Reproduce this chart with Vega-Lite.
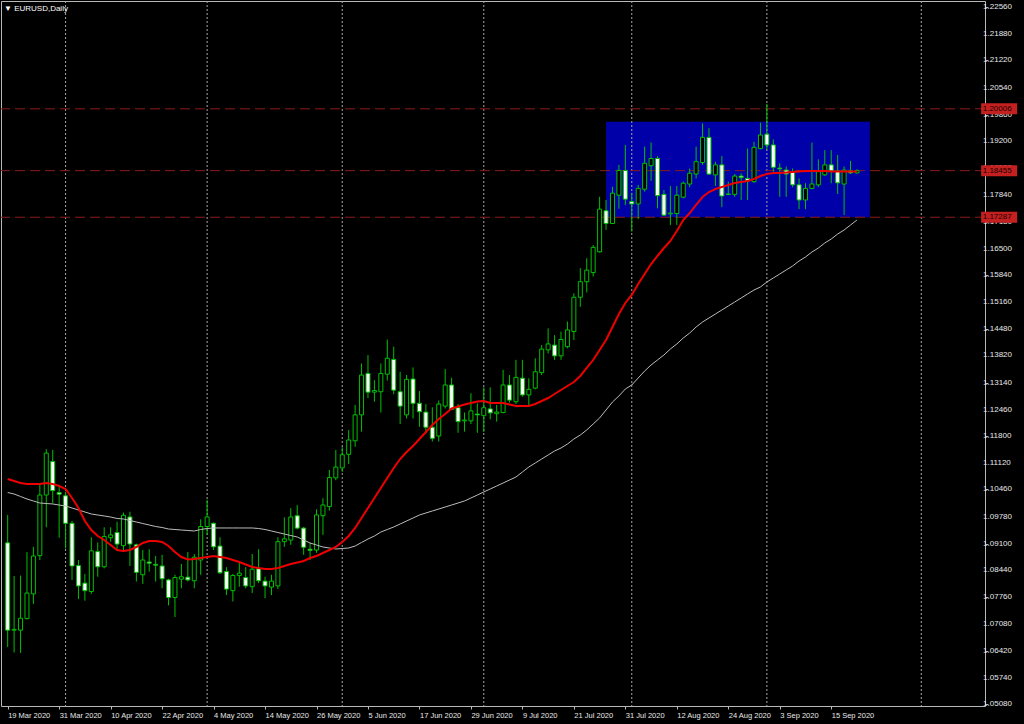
{
"$schema": "https://vega.github.io/schema/vega-lite/v6.json",
"width": 984, "height": 705,
"autosize": {"type": "none"},
"padding": {"left": 1, "top": 1, "right": 39, "bottom": 18},
"background": "#000000",
"config": {"view": {"stroke": "#b8b8b8", "strokeWidth": 1}, "font": "Liberation Sans", "axis": {"labelOverlap": false, "labelFlush": false}},
"title": {"text": "▼ EURUSD,Daily", "anchor": "start", "orient": "top", "frame": "group", "offset": 0, "dy": 16, "dx": 3, "baseline": "middle", "fontSize": 8, "fontWeight": "normal", "color": "#ffffff", "font": "Liberation Sans"},
"datasets": {
"bars": [
{"i":0,"d":"2020-03-19","o":1.0912,"h":1.0982,"l":1.0651,"c":1.0693,"r":1.10722,"g":1.10383},
{"i":1,"d":"2020-03-20","o":1.0693,"h":1.0829,"l":1.0637,"c":1.0695,"r":1.10671,"g":1.10345},
{"i":2,"d":"2020-03-23","o":1.0693,"h":1.0830,"l":1.0636,"c":1.0723,"r":1.10621,"g":1.10283},
{"i":3,"d":"2020-03-24","o":1.0722,"h":1.0889,"l":1.0720,"c":1.0786,"r":1.10596,"g":1.10220},
{"i":4,"d":"2020-03-25","o":1.0784,"h":1.0902,"l":1.0759,"c":1.0879,"r":1.10596,"g":1.10170},
{"i":5,"d":"2020-03-26","o":1.0880,"h":1.1057,"l":1.0869,"c":1.1032,"r":1.10596,"g":1.10120},
{"i":6,"d":"2020-03-27","o":1.1032,"h":1.1147,"l":1.0951,"c":1.1137,"r":1.10621,"g":1.10107},
{"i":7,"d":"2020-03-30","o":1.1116,"h":1.1145,"l":1.1011,"c":1.1043,"r":1.10596,"g":1.10095},
{"i":8,"d":"2020-03-31","o":1.1038,"h":1.1053,"l":1.0925,"c":1.1034,"r":1.10546,"g":1.10069},
{"i":9,"d":"2020-04-01","o":1.1030,"h":1.1040,"l":1.0898,"c":1.0961,"r":1.10471,"g":1.10044},
{"i":10,"d":"2020-04-02","o":1.0961,"h":1.0967,"l":1.0819,"c":1.0854,"r":1.10245,"g":1.09994},
{"i":11,"d":"2020-04-03","o":1.0855,"h":1.0869,"l":1.0771,"c":1.0804,"r":1.09994,"g":1.09944},
{"i":12,"d":"2020-04-06","o":1.0811,"h":1.0834,"l":1.0767,"c":1.0792,"r":1.09668,"g":1.09894},
{"i":13,"d":"2020-04-07","o":1.0790,"h":1.0926,"l":1.0784,"c":1.0892,"r":1.09442,"g":1.09844},
{"i":14,"d":"2020-04-08","o":1.0890,"h":1.0913,"l":1.0827,"c":1.0852,"r":1.09292,"g":1.09819},
{"i":15,"d":"2020-04-09","o":1.0852,"h":1.0951,"l":1.0848,"c":1.0928,"r":1.09192,"g":1.09794},
{"i":16,"d":"2020-04-10","o":1.0925,"h":1.0951,"l":1.0915,"c":1.0932,"r":1.09066,"g":1.09768},
{"i":17,"d":"2020-04-13","o":1.0938,"h":1.0965,"l":1.0892,"c":1.0909,"r":1.08941,"g":1.09731},
{"i":18,"d":"2020-04-14","o":1.0905,"h":1.0988,"l":1.0892,"c":1.0981,"r":1.08916,"g":1.09718},
{"i":19,"d":"2020-04-15","o":1.0977,"h":1.0990,"l":1.0854,"c":1.0909,"r":1.08941,"g":1.09681},
{"i":20,"d":"2020-04-16","o":1.0907,"h":1.0910,"l":1.0815,"c":1.0838,"r":1.09016,"g":1.09643},
{"i":21,"d":"2020-04-17","o":1.0832,"h":1.0894,"l":1.0809,"c":1.0869,"r":1.09116,"g":1.09605},
{"i":22,"d":"2020-04-20","o":1.0864,"h":1.0896,"l":1.0840,"c":1.0861,"r":1.09166,"g":1.09568},
{"i":23,"d":"2020-04-21","o":1.0858,"h":1.0879,"l":1.0815,"c":1.0856,"r":1.09166,"g":1.09530},
{"i":24,"d":"2020-04-22","o":1.0854,"h":1.0882,"l":1.0798,"c":1.0822,"r":1.09141,"g":1.09505},
{"i":25,"d":"2020-04-23","o":1.0819,"h":1.0822,"l":1.0755,"c":1.0775,"r":1.09041,"g":1.09467},
{"i":26,"d":"2020-04-24","o":1.0775,"h":1.0832,"l":1.0726,"c":1.0825,"r":1.08891,"g":1.09455},
{"i":27,"d":"2020-04-27","o":1.0821,"h":1.0859,"l":1.0798,"c":1.0827,"r":1.08765,"g":1.09442},
{"i":28,"d":"2020-04-28","o":1.0826,"h":1.0889,"l":1.0815,"c":1.0819,"r":1.08702,"g":1.09430},
{"i":29,"d":"2020-04-29","o":1.0817,"h":1.0884,"l":1.0798,"c":1.0876,"r":1.08715,"g":1.09417},
{"i":30,"d":"2020-04-30","o":1.0869,"h":1.0971,"l":1.0832,"c":1.0953,"r":1.08740,"g":1.09455},
{"i":31,"d":"2020-05-01","o":1.0953,"h":1.1020,"l":1.0932,"c":1.0977,"r":1.08765,"g":1.09480},
{"i":32,"d":"2020-05-04","o":1.0961,"h":1.0963,"l":1.0894,"c":1.0902,"r":1.08790,"g":1.09493},
{"i":33,"d":"2020-05-05","o":1.0904,"h":1.0926,"l":1.0834,"c":1.0837,"r":1.08765,"g":1.09493},
{"i":34,"d":"2020-05-06","o":1.0840,"h":1.0851,"l":1.0781,"c":1.0796,"r":1.08740,"g":1.09493},
{"i":35,"d":"2020-05-07","o":1.0792,"h":1.0834,"l":1.0765,"c":1.0830,"r":1.08690,"g":1.09493},
{"i":36,"d":"2020-05-08","o":1.0830,"h":1.0862,"l":1.0802,"c":1.0836,"r":1.08640,"g":1.09493},
{"i":37,"d":"2020-05-11","o":1.0825,"h":1.0851,"l":1.0798,"c":1.0804,"r":1.08577,"g":1.09493},
{"i":38,"d":"2020-05-12","o":1.0802,"h":1.0884,"l":1.0786,"c":1.0846,"r":1.08514,"g":1.09493},
{"i":39,"d":"2020-05-13","o":1.0847,"h":1.0896,"l":1.0811,"c":1.0817,"r":1.08489,"g":1.09480},
{"i":40,"d":"2020-05-14","o":1.0816,"h":1.0827,"l":1.0773,"c":1.0804,"r":1.08464,"g":1.09455},
{"i":41,"d":"2020-05-15","o":1.0801,"h":1.0832,"l":1.0781,"c":1.0816,"r":1.08464,"g":1.09417},
{"i":42,"d":"2020-05-18","o":1.0804,"h":1.0926,"l":1.0796,"c":1.0915,"r":1.08489,"g":1.09380},
{"i":43,"d":"2020-05-19","o":1.0915,"h":1.0976,"l":1.0902,"c":1.0922,"r":1.08539,"g":1.09342},
{"i":44,"d":"2020-05-20","o":1.0919,"h":1.0999,"l":1.0907,"c":1.0977,"r":1.08590,"g":1.09304},
{"i":45,"d":"2020-05-21","o":1.0980,"h":1.1007,"l":1.0946,"c":1.0949,"r":1.08627,"g":1.09267},
{"i":46,"d":"2020-05-22","o":1.0949,"h":1.0952,"l":1.0882,"c":1.0901,"r":1.08665,"g":1.09192},
{"i":47,"d":"2020-05-25","o":1.0896,"h":1.0913,"l":1.0869,"c":1.0893,"r":1.08740,"g":1.09116},
{"i":48,"d":"2020-05-26","o":1.0894,"h":1.0996,"l":1.0887,"c":1.0982,"r":1.08790,"g":1.09066},
{"i":49,"d":"2020-05-27","o":1.0980,"h":1.1024,"l":1.0932,"c":1.1007,"r":1.08866,"g":1.09016},
{"i":50,"d":"2020-05-28","o":1.1003,"h":1.1095,"l":1.0993,"c":1.1076,"r":1.08941,"g":1.08991},
{"i":51,"d":"2020-05-29","o":1.1075,"h":1.1145,"l":1.1069,"c":1.1102,"r":1.09016,"g":1.08966},
{"i":52,"d":"2020-06-01","o":1.1100,"h":1.1152,"l":1.1090,"c":1.1133,"r":1.09141,"g":1.08978},
{"i":53,"d":"2020-06-02","o":1.1134,"h":1.1195,"l":1.1110,"c":1.1170,"r":1.09292,"g":1.08991},
{"i":54,"d":"2020-06-03","o":1.1168,"h":1.1258,"l":1.1153,"c":1.1233,"r":1.09493,"g":1.09041},
{"i":55,"d":"2020-06-04","o":1.1233,"h":1.1362,"l":1.1191,"c":1.1333,"r":1.09743,"g":1.09129},
{"i":56,"d":"2020-06-05","o":1.1337,"h":1.1383,"l":1.1275,"c":1.1290,"r":1.09994,"g":1.09217},
{"i":57,"d":"2020-06-08","o":1.1290,"h":1.1320,"l":1.1266,"c":1.1294,"r":1.10245,"g":1.09292},
{"i":58,"d":"2020-06-09","o":1.1291,"h":1.1362,"l":1.1239,"c":1.1337,"r":1.10496,"g":1.09392},
{"i":59,"d":"2020-06-10","o":1.1335,"h":1.1422,"l":1.1319,"c":1.1375,"r":1.10747,"g":1.09455},
{"i":60,"d":"2020-06-11","o":1.1372,"h":1.1404,"l":1.1285,"c":1.1295,"r":1.10997,"g":1.09518},
{"i":61,"d":"2020-06-12","o":1.1291,"h":1.1341,"l":1.1210,"c":1.1255,"r":1.11223,"g":1.09593},
{"i":62,"d":"2020-06-15","o":1.1233,"h":1.1333,"l":1.1224,"c":1.1322,"r":1.11399,"g":1.09668},
{"i":63,"d":"2020-06-16","o":1.1323,"h":1.1352,"l":1.1224,"c":1.1262,"r":1.11549,"g":1.09743},
{"i":64,"d":"2020-06-17","o":1.1262,"h":1.1293,"l":1.1203,"c":1.1241,"r":1.11725,"g":1.09819},
{"i":65,"d":"2020-06-18","o":1.1240,"h":1.1260,"l":1.1187,"c":1.1202,"r":1.11900,"g":1.09869},
{"i":66,"d":"2020-06-19","o":1.1202,"h":1.1252,"l":1.1166,"c":1.1174,"r":1.12076,"g":1.09919},
{"i":67,"d":"2020-06-22","o":1.1180,"h":1.1269,"l":1.1166,"c":1.1260,"r":1.12226,"g":1.09969},
{"i":68,"d":"2020-06-23","o":1.1255,"h":1.1348,"l":1.1249,"c":1.1308,"r":1.12352,"g":1.10019},
{"i":69,"d":"2020-06-24","o":1.1308,"h":1.1326,"l":1.1245,"c":1.1247,"r":1.12490,"g":1.10069},
{"i":70,"d":"2020-06-25","o":1.1251,"h":1.1260,"l":1.1188,"c":1.1216,"r":1.12540,"g":1.10120},
{"i":71,"d":"2020-06-26","o":1.1218,"h":1.1239,"l":1.1191,"c":1.1220,"r":1.12590,"g":1.10170},
{"i":72,"d":"2020-06-29","o":1.1218,"h":1.1287,"l":1.1210,"c":1.1243,"r":1.12628,"g":1.10245},
{"i":73,"d":"2020-06-30","o":1.1235,"h":1.1262,"l":1.1188,"c":1.1233,"r":1.12665,"g":1.10320},
{"i":74,"d":"2020-07-01","o":1.1231,"h":1.1302,"l":1.1190,"c":1.1251,"r":1.12678,"g":1.10396},
{"i":75,"d":"2020-07-02","o":1.1248,"h":1.1302,"l":1.1222,"c":1.1238,"r":1.12628,"g":1.10471},
{"i":76,"d":"2020-07-03","o":1.1236,"h":1.1258,"l":1.1216,"c":1.1240,"r":1.12628,"g":1.10546},
{"i":77,"d":"2020-07-06","o":1.1239,"h":1.1346,"l":1.1237,"c":1.1308,"r":1.12628,"g":1.10621},
{"i":78,"d":"2020-07-07","o":1.1308,"h":1.1333,"l":1.1264,"c":1.1270,"r":1.12590,"g":1.10696},
{"i":79,"d":"2020-07-08","o":1.1266,"h":1.1371,"l":1.1260,"c":1.1327,"r":1.12553,"g":1.10772},
{"i":80,"d":"2020-07-09","o":1.1325,"h":1.1371,"l":1.1279,"c":1.1283,"r":1.12553,"g":1.10897},
{"i":81,"d":"2020-07-10","o":1.1283,"h":1.1325,"l":1.1254,"c":1.1297,"r":1.12553,"g":1.11023},
{"i":82,"d":"2020-07-13","o":1.1300,"h":1.1375,"l":1.1297,"c":1.1341,"r":1.12603,"g":1.11123},
{"i":83,"d":"2020-07-14","o":1.1339,"h":1.1408,"l":1.1333,"c":1.1398,"r":1.12678,"g":1.11223},
{"i":84,"d":"2020-07-15","o":1.1396,"h":1.1450,"l":1.1387,"c":1.1411,"r":1.12753,"g":1.11324},
{"i":85,"d":"2020-07-16","o":1.1408,"h":1.1433,"l":1.1371,"c":1.1381,"r":1.12853,"g":1.11424},
{"i":86,"d":"2020-07-17","o":1.1381,"h":1.1442,"l":1.1371,"c":1.1422,"r":1.12954,"g":1.11499},
{"i":87,"d":"2020-07-20","o":1.1404,"h":1.1467,"l":1.1400,"c":1.1446,"r":1.13054,"g":1.11599},
{"i":88,"d":"2020-07-21","o":1.1442,"h":1.1538,"l":1.1421,"c":1.1528,"r":1.13154,"g":1.11725},
{"i":89,"d":"2020-07-22","o":1.1528,"h":1.1601,"l":1.1504,"c":1.1567,"r":1.13305,"g":1.11825},
{"i":90,"d":"2020-07-23","o":1.1567,"h":1.1626,"l":1.1540,"c":1.1596,"r":1.13506,"g":1.11951},
{"i":91,"d":"2020-07-24","o":1.1590,"h":1.1659,"l":1.1580,"c":1.1653,"r":1.13706,"g":1.12101},
{"i":92,"d":"2020-07-27","o":1.1642,"h":1.1780,"l":1.1640,"c":1.1749,"r":1.13957,"g":1.12252},
{"i":93,"d":"2020-07-28","o":1.1745,"h":1.1772,"l":1.1697,"c":1.1713,"r":1.14208,"g":1.12452},
{"i":94,"d":"2020-07-29","o":1.1713,"h":1.1805,"l":1.1712,"c":1.1789,"r":1.14534,"g":1.12653},
{"i":95,"d":"2020-07-30","o":1.1784,"h":1.1860,"l":1.1750,"c":1.1846,"r":1.14860,"g":1.12803},
{"i":96,"d":"2020-07-31","o":1.1846,"h":1.1910,"l":1.1759,"c":1.1774,"r":1.15136,"g":1.12979},
{"i":97,"d":"2020-08-03","o":1.1768,"h":1.1790,"l":1.1693,"c":1.1762,"r":1.15337,"g":1.13079},
{"i":98,"d":"2020-08-04","o":1.1762,"h":1.1810,"l":1.1724,"c":1.1801,"r":1.15612,"g":1.13255},
{"i":99,"d":"2020-08-05","o":1.1799,"h":1.1906,"l":1.1793,"c":1.1864,"r":1.15863,"g":1.13430},
{"i":100,"d":"2020-08-06","o":1.1858,"h":1.1916,"l":1.1820,"c":1.1876,"r":1.16114,"g":1.13581},
{"i":101,"d":"2020-08-07","o":1.1876,"h":1.1882,"l":1.1751,"c":1.1783,"r":1.16315,"g":1.13706},
{"i":102,"d":"2020-08-10","o":1.1786,"h":1.1797,"l":1.1732,"c":1.1734,"r":1.16515,"g":1.13832},
{"i":103,"d":"2020-08-11","o":1.1737,"h":1.1807,"l":1.1709,"c":1.1739,"r":1.16691,"g":1.13982},
{"i":104,"d":"2020-08-12","o":1.1738,"h":1.1807,"l":1.1709,"c":1.1784,"r":1.16942,"g":1.14108},
{"i":105,"d":"2020-08-13","o":1.1779,"h":1.1818,"l":1.1776,"c":1.1814,"r":1.17218,"g":1.14258},
{"i":106,"d":"2020-08-14","o":1.1812,"h":1.1851,"l":1.1804,"c":1.1839,"r":1.17393,"g":1.14383},
{"i":107,"d":"2020-08-17","o":1.1837,"h":1.1906,"l":1.1826,"c":1.1868,"r":1.17594,"g":1.14534},
{"i":108,"d":"2020-08-18","o":1.1866,"h":1.1964,"l":1.1860,"c":1.1929,"r":1.17794,"g":1.14659},
{"i":109,"d":"2020-08-19","o":1.1929,"h":1.1952,"l":1.1835,"c":1.1837,"r":1.17920,"g":1.14760},
{"i":110,"d":"2020-08-20","o":1.1835,"h":1.1868,"l":1.1807,"c":1.1860,"r":1.17995,"g":1.14860},
{"i":111,"d":"2020-08-21","o":1.1860,"h":1.1882,"l":1.1754,"c":1.1782,"r":1.18045,"g":1.14960},
{"i":112,"d":"2020-08-24","o":1.1787,"h":1.1818,"l":1.1784,"c":1.1786,"r":1.18095,"g":1.15061},
{"i":113,"d":"2020-08-25","o":1.1786,"h":1.1837,"l":1.1780,"c":1.1832,"r":1.18145,"g":1.15161},
{"i":114,"d":"2020-08-26","o":1.1832,"h":1.1839,"l":1.1772,"c":1.1828,"r":1.18170,"g":1.15261},
{"i":115,"d":"2020-08-27","o":1.1826,"h":1.1901,"l":1.1772,"c":1.1820,"r":1.18195,"g":1.15362},
{"i":116,"d":"2020-08-28","o":1.1818,"h":1.1918,"l":1.1815,"c":1.1904,"r":1.18246,"g":1.15462},
{"i":117,"d":"2020-08-31","o":1.1901,"h":1.1966,"l":1.1899,"c":1.1935,"r":1.18321,"g":1.15538},
{"i":118,"d":"2020-09-01","o":1.1937,"h":1.2013,"l":1.1897,"c":1.1910,"r":1.18371,"g":1.15663},
{"i":119,"d":"2020-09-02","o":1.1910,"h":1.1924,"l":1.1843,"c":1.1854,"r":1.18396,"g":1.15763},
{"i":120,"d":"2020-09-03","o":1.1852,"h":1.1864,"l":1.1780,"c":1.1850,"r":1.18396,"g":1.15863},
{"i":121,"d":"2020-09-04","o":1.1847,"h":1.1856,"l":1.1780,"c":1.1837,"r":1.18409,"g":1.15964},
{"i":122,"d":"2020-09-07","o":1.1843,"h":1.1851,"l":1.1804,"c":1.1810,"r":1.18421,"g":1.16064},
{"i":123,"d":"2020-09-08","o":1.1810,"h":1.1826,"l":1.1749,"c":1.1772,"r":1.18434,"g":1.16189},
{"i":124,"d":"2020-09-09","o":1.1772,"h":1.1814,"l":1.1749,"c":1.1801,"r":1.18446,"g":1.16290},
{"i":125,"d":"2020-09-10","o":1.1801,"h":1.1916,"l":1.1799,"c":1.1812,"r":1.18446,"g":1.16415},
{"i":126,"d":"2020-09-11","o":1.1810,"h":1.1874,"l":1.1804,"c":1.1843,"r":1.18446,"g":1.16515},
{"i":127,"d":"2020-09-14","o":1.1835,"h":1.1897,"l":1.1832,"c":1.1860,"r":1.18446,"g":1.16641},
{"i":128,"d":"2020-09-15","o":1.1860,"h":1.1897,"l":1.1814,"c":1.1845,"r":1.18434,"g":1.16741},
{"i":129,"d":"2020-09-16","o":1.1845,"h":1.1885,"l":1.1787,"c":1.1815,"r":1.18434,"g":1.16866},
{"i":130,"d":"2020-09-17","o":1.1812,"h":1.1856,"l":1.1734,"c":1.1847,"r":1.18434,"g":1.16967},
{"i":131,"d":"2020-09-18","o":1.1845,"h":1.1870,"l":1.1837,"c":1.1840,"r":1.18434,"g":1.17092},
{"i":132,"d":"2020-09-21","o":1.1840,"h":1.1849,"l":1.1838,"c":1.18455,"r":1.18434,"g":1.17218}
],
"grid": [{"i":9},{"i":31},{"i":52},{"i":74},{"i":97},{"i":118},{"i":142}],
"levels": [{"p":1.20006},{"p":1.18455},{"p":1.17287}],
"yticks": [{"v":1.2256},{"v":1.2188},{"v":1.2122},{"v":1.2054},{"v":1.1986},{"v":1.192},{"v":1.1852},{"v":1.1784},{"v":1.1718},{"v":1.165},{"v":1.1584},{"v":1.1516},{"v":1.1448},{"v":1.1382},{"v":1.1314},{"v":1.1246},{"v":1.118},{"v":1.1112},{"v":1.1046},{"v":1.0978},{"v":1.091},{"v":1.0844},{"v":1.0776},{"v":1.0708},{"v":1.0642},{"v":1.0574},{"v":1.0508}],
"box": [{"t1":93,"t2":134,"p1":1.1968,"p2":1.17287}]
},
"layer": [
{"data":{"name":"box"},"mark":{"type":"rect","color":"#0000a8"},
 "encoding":{"x":{"field":"t1","type":"quantitative","scale":{"domain":[-0.2615,151.1231],"nice":false,"zero":false},"axis":{"title":null,"labelOverlap":false}},
 "x2":{"field":"t2"},
 "y":{"field":"p1","type":"quantitative","scale":{"domain":[1.050281,1.227105],"nice":false,"zero":false},"axis":{"title":null,"labelOverlap":false}},
 "y2":{"field":"p2"}}},
{"data":{"name":"grid"},"mark":{"type":"rule","color":"#a8a8a8","strokeDash":[2,2],"strokeWidth":1},
 "encoding":{"x":{"field":"i","type":"quantitative","scale":{"domain":[-0.2615,151.1231],"nice":false,"zero":false},"axis":{"title":null,"labelOverlap":false}}}},
{"data":{"name":"levels"},"mark":{"type":"rule","color":"#8c1c1c","strokeDash":[10,5],"strokeWidth":1},
 "encoding":{"y":{"field":"p","type":"quantitative","scale":{"domain":[1.050281,1.227105],"nice":false,"zero":false},"axis":{"title":null,"labelOverlap":false}}}},
{"data":{"name":"bars"},"mark":{"type":"rule","color":"#00c000","strokeWidth":1,"clip":true},
 "encoding":{"x":{"field":"i","type":"quantitative","scale":{"domain":[-0.2615,151.1231],"nice":false,"zero":false},
   "axis":{"orient":"bottom","title":null,"values":[0,8,16,24,32,40,48,56,64,72,80,88,96,104,112,120,128],
   "labelExpr":"datum.value==0?'19 Mar 2020':datum.value==8?'31 Mar 2020':datum.value==16?'10 Apr 2020':datum.value==24?'22 Apr 2020':datum.value==32?'4 May 2020':datum.value==40?'14 May 2020':datum.value==48?'26 May 2020':datum.value==56?'5 Jun 2020':datum.value==64?'17 Jun 2020':datum.value==72?'29 Jun 2020':datum.value==80?'9 Jul 2020':datum.value==88?'21 Jul 2020':datum.value==96?'31 Jul 2020':datum.value==104?'12 Aug 2020':datum.value==112?'24 Aug 2020':datum.value==120?'3 Sep 2020':'15 Sep 2020'",
   "labelAlign":"left","labelBaseline":"top","labelPadding":2,"tickSize":3,"tickColor":"#b8b8b8","domain":false,"grid":false,
   "labelColor":"#e8e8e8","labelFontSize":7.5,"labelFont":"Liberation Sans","labelOverlap":false,"labelFlush":false}},
  "y":{"field":"l","type":"quantitative","scale":{"domain":[1.050281,1.227105],"nice":false,"zero":false},
   "axis":{"orient":"right","title":null,"values":[1.2256,1.2188,1.2122,1.2054,1.1986,1.192,1.1852,1.1784,1.1718,1.165,1.1584,1.1516,1.1448,1.1382,1.1314,1.1246,1.118,1.1112,1.1046,1.0978,1.091,1.0844,1.0776,1.0708,1.0642,1.0574,1.0508],
   "labels":false,"tickSize":3,"tickColor":"#b8b8b8","domain":false,"grid":false,"labelOverlap":false}},
  "y2":{"field":"h"}}},
{"data":{"name":"bars"},"mark":{"type":"bar","width":4,"stroke":"#00c000","strokeWidth":1,"clip":true},
 "encoding":{"x":{"field":"i","type":"quantitative","scale":{"domain":[-0.2615,151.1231],"nice":false,"zero":false},"axis":{"title":null,"labelOverlap":false}},
  "y":{"field":"o","type":"quantitative","scale":{"domain":[1.050281,1.227105],"nice":false,"zero":false},"axis":{"title":null,"labelOverlap":false}},
  "y2":{"field":"c"},
  "fill":{"condition":{"test":"datum.c >= datum.o","value":"#000000"},"value":"#ffffff"}}},
{"data":{"name":"bars"},"mark":{"type":"line","color":"#bcbcbc","strokeWidth":1,"clip":true},
 "encoding":{"x":{"field":"i","type":"quantitative","scale":{"domain":[-0.2615,151.1231],"nice":false,"zero":false},"axis":{"title":null,"labelOverlap":false}},
  "y":{"field":"g","type":"quantitative","scale":{"domain":[1.050281,1.227105],"nice":false,"zero":false},"axis":{"title":null,"labelOverlap":false}}}},
{"data":{"name":"bars"},"mark":{"type":"line","color":"#ee0000","strokeWidth":2,"clip":true},
 "encoding":{"x":{"field":"i","type":"quantitative","scale":{"domain":[-0.2615,151.1231],"nice":false,"zero":false},"axis":{"title":null,"labelOverlap":false}},
  "y":{"field":"r","type":"quantitative","scale":{"domain":[1.050281,1.227105],"nice":false,"zero":false},"axis":{"title":null,"labelOverlap":false}}}},
{"data":{"name":"yticks"},"mark":{"type":"text","align":"left","baseline":"middle","font":"Liberation Sans","fontSize":8,"color":"#e8e8e8","clip":false},
 "encoding":{"x":{"datum":151.6,"type":"quantitative","scale":{"domain":[-0.2615,151.1231],"nice":false,"zero":false},"axis":{"title":null,"labelOverlap":false}},
  "y":{"field":"v","type":"quantitative","scale":{"domain":[1.050281,1.227105],"nice":false,"zero":false},"axis":{"title":null,"labelOverlap":false}},
  "text":{"field":"v","format":".5f"}}},
{"data":{"name":"levels"},"mark":{"type":"rule","color":"#c42020","strokeWidth":11,"strokeCap":"butt","clip":false},
 "encoding":{"x":{"datum":151.3,"type":"quantitative","scale":{"domain":[-0.2615,151.1231],"nice":false,"zero":false},"axis":{"title":null,"labelOverlap":false}},
  "x2":{"datum":156.9},
  "y":{"field":"p","type":"quantitative","scale":{"domain":[1.050281,1.227105],"nice":false,"zero":false},"axis":{"title":null,"labelOverlap":false}}}},
{"data":{"name":"levels"},"mark":{"type":"text","align":"left","baseline":"middle","font":"Liberation Sans","fontSize":8,"color":"#1a0000","clip":false},
 "encoding":{"x":{"datum":151.55,"type":"quantitative","scale":{"domain":[-0.2615,151.1231],"nice":false,"zero":false},"axis":{"title":null,"labelOverlap":false}},
  "y":{"field":"p","type":"quantitative","scale":{"domain":[1.050281,1.227105],"nice":false,"zero":false},"axis":{"title":null,"labelOverlap":false}},
  "text":{"field":"p","format":".5f"}}}
]
}
